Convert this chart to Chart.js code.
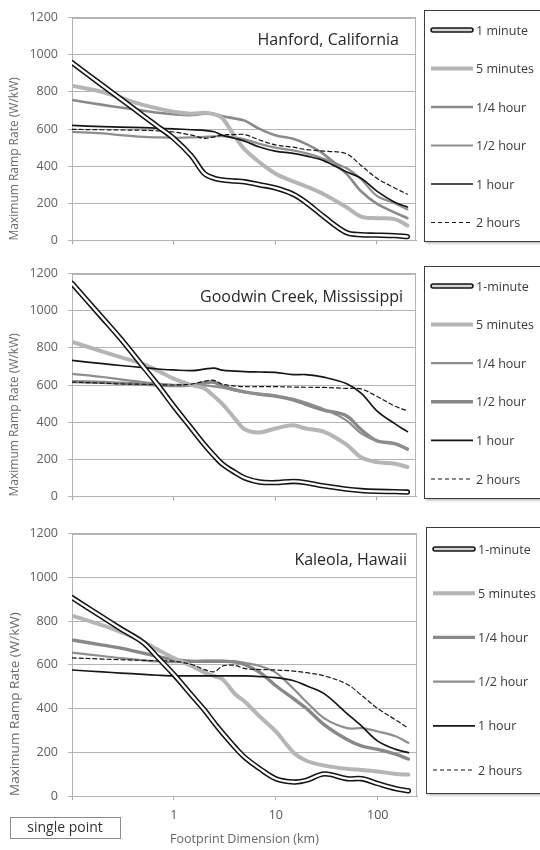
<!DOCTYPE html>
<html>
<head>
<meta charset="utf-8">
<script src="https://cdn.jsdelivr.net/npm/chart.js@4.4.1/dist/chart.umd.min.js"></script>
<style>
  html, body { margin: 0; padding: 0; background: #fff; }
  #wrap { position: relative; width: 540px; height: 850px; overflow: hidden; background: #fff; }
  #wrap canvas { position: absolute; left: 0; }
</style>
</head>
<body>
<div id="wrap">
  <canvas id="hanford" width="540" height="258" style="top:0px"></canvas>
  <canvas id="goodwin" width="540" height="258" style="top:256px"></canvas>
  <canvas id="kaleola" width="540" height="334" style="top:516px"></canvas>
</div>
<script>
// Footprint dimension (km); the first point stands for a single sensor
const footprintKm = [0.1, 0.2, 0.3, 0.5, 0.7, 1, 1.5, 2, 2.5, 3, 4, 5, 7, 10, 15, 20, 30, 50, 70, 100, 150, 200];
const xTickValues = [0.1, 1, 10, 100];
const yTickValues = [0, 200, 400, 600, 800, 1000, 1200];

// Maximum ramp rate (W/kW) — Hanford, California
const hanford1min      = [957, 834, 763, 672, 613, 550, 455, 361, 335, 326, 320, 316, 300, 283, 249, 206, 129, 43, 31, 29, 26, 21];
const hanford5min      = [833, 799, 768, 730, 710, 693, 682, 687, 680, 660, 560, 490, 421, 361, 318, 292, 249, 180, 129, 120, 115, 81];
const hanfordQuarterHr = [756, 730, 716, 699, 687, 679, 675, 682, 680, 670, 656, 645, 601, 567, 548, 520, 465, 360, 265, 198, 150, 120];
const hanfordHalfHr    = [584, 576, 567, 558, 555, 553, 555, 558, 560, 562, 555, 545, 520, 500, 485, 470, 440, 390, 330, 240, 200, 167];
const hanford1hr       = [619, 613, 610, 607, 604, 601, 596, 593, 585, 567, 550, 535, 503, 481, 469, 455, 430, 370, 335, 266, 206, 180];
const hanford2hr       = [598, 596, 595, 593, 590, 584, 567, 550, 558, 567, 570, 570, 541, 515, 502, 490, 481, 467, 404, 335, 283, 249];

// Goodwin Creek, Mississippi
const goodwin1min      = [1147, 960, 850, 700, 600, 487, 366, 280, 220, 176, 130, 100, 78, 75, 81, 75, 57, 40, 32, 28, 26, 24];
const goodwin5min      = [832, 780, 750, 712, 677, 634, 599, 582, 539, 500, 420, 362, 345, 366, 383, 366, 349, 280, 211, 185, 176, 159];
const goodwinQuarterHr = [660, 643, 630, 615, 608, 600, 595, 598, 592, 585, 570, 560, 553, 545, 525, 505, 470, 410, 340, 300, 283, 258];
const goodwinHalfHr    = [618, 614, 610, 605, 600, 597, 600, 612, 615, 595, 575, 563, 550, 540, 520, 496, 465, 435, 360, 300, 285, 255];
const goodwin1hr       = [732, 715, 705, 694, 686, 681, 677, 685, 691, 680, 675, 672, 670, 668, 656, 656, 642, 608, 556, 461, 392, 349];
const goodwin2hr       = [616, 610, 606, 604, 602, 600, 605, 620, 625, 605, 595, 591, 591, 591, 589, 588, 587, 582, 579, 539, 487, 461];

// Kaleola, Hawaii
const kaleola1min      = [907, 817, 765, 701, 631, 555, 459, 392, 333, 288, 221, 175, 124, 79, 64, 72, 101, 79, 79, 57, 34, 24];
const kaleola5min      = [825, 780, 750, 705, 668, 631, 594, 564, 548, 534, 465, 430, 362, 295, 198, 161, 139, 124, 119, 112, 101, 98];
const kaleolaQuarterHr = [713, 690, 676, 653, 638, 623, 616, 616, 616, 616, 612, 600, 564, 504, 444, 400, 325, 258, 228, 213, 191, 169];
const kaleolaHalfHr    = [655, 640, 630, 620, 615, 612, 615, 618, 618, 618, 615, 608, 594, 564, 489, 430, 355, 310, 310, 295, 273, 243];
const kaleola1hr       = [576, 567, 562, 556, 552, 549, 549, 549, 549, 549, 549, 549, 546, 541, 527, 504, 467, 377, 318, 251, 213, 198];
const kaleola2hr       = [631, 626, 623, 620, 618, 616, 601, 578, 568, 594, 597, 582, 578, 576, 571, 564, 549, 511, 459, 400, 348, 310];

const FONT = 'Open Sans';
const LINE = {
  minuteOuter: { borderColor: '#141414', borderWidth: 5.4 },
  minuteInner: { borderColor: '#ffffff', borderWidth: 2.3 },
  fiveMin:     { borderColor: '#b5b5b5', borderWidth: 4 },
  grayThin:    { borderColor: '#8e8e8e', borderWidth: 2.2 },
  grayThick:   { borderColor: '#888888', borderWidth: 3.4 },
  oneHour:     { borderColor: '#161616', borderWidth: 1.7 },
  twoHours:    { borderColor: '#161616', borderWidth: 1.2, borderDash: [4, 3] }
};

function series(label, values, style, legendRow, legendKind) {
  return Object.assign({
    label: label,
    legendRow: legendRow,
    legendKind: legendKind || 'line',
    data: footprintKm.map((x, i) => ({ x: x, y: values[i] })),
    pointRadius: 0,
    pointHoverRadius: 0,
    fill: false,
    tension: 0.35,
    borderCapStyle: 'round',
    borderJoinStyle: 'round'
  }, style);
}

// Light frame around the plotting area
const plotFrame = {
  id: 'plotFrame',
  beforeDatasetsDraw(chart) {
    const a = chart.chartArea, ctx = chart.ctx;
    ctx.save();
    ctx.strokeStyle = '#b4b4b4';
    ctx.lineWidth = 1;
    ctx.strokeRect(Math.round(a.left) + 0.5, Math.round(a.top) + 0.5,
                   Math.round(a.right - a.left) - 1, Math.round(a.bottom - a.top) - 1);
    ctx.restore();
  }
};

// Site name written inside the plot, right aligned
const siteName = {
  id: 'siteName',
  afterDatasetsDraw(chart, args, o) {
    const ctx = chart.ctx;
    ctx.save();
    ctx.font = o.size + 'px "' + FONT + '"';
    ctx.fillStyle = '#262626';
    ctx.textAlign = 'right';
    ctx.textBaseline = 'middle';
    ctx.fillText(o.text, o.right, o.y);
    ctx.restore();
  }
};

// Boxed legend to the right of the plot
const boxedLegend = {
  id: 'boxedLegend',
  afterDraw(chart, args, o) {
    const ctx = chart.ctx;
    ctx.save();
    ctx.shadowColor = 'rgba(0,0,0,0.35)';
    ctx.shadowBlur = 3;
    ctx.shadowOffsetX = 2;
    ctx.shadowOffsetY = 2;
    ctx.fillStyle = '#ffffff';
    ctx.fillRect(o.left, o.top, o.width, o.height);
    ctx.shadowColor = 'rgba(0,0,0,0)';
    ctx.strokeStyle = '#3c3c3c';
    ctx.lineWidth = 1;
    ctx.strokeRect(o.left + 0.5, o.top + 0.5, o.width, o.height);

    const items = chart.data.datasets
      .filter(d => d.legendRow !== undefined)
      .sort((a, b) => a.legendRow - b.legendRow);
    const x0 = o.left + 7, x1 = o.left + 49;
    items.forEach((d, i) => {
      const y = o.firstRow + i * o.rowGap;
      ctx.setLineDash([]);
      ctx.lineCap = 'round';
      if (d.legendKind === 'double') {
        ctx.strokeStyle = '#141414';
        ctx.lineWidth = 5.5;
        ctx.beginPath(); ctx.moveTo(x0 + 2, y); ctx.lineTo(x1 - 2, y); ctx.stroke();
        ctx.strokeStyle = '#d4d4d4';
        ctx.lineWidth = 2.4;
        ctx.beginPath(); ctx.moveTo(x0 + 2, y); ctx.lineTo(x1 - 2, y); ctx.stroke();
      } else {
        ctx.lineCap = 'butt';
        ctx.strokeStyle = d.borderColor;
        ctx.lineWidth = d.borderWidth;
        ctx.setLineDash(d.borderDash || []);
        ctx.beginPath(); ctx.moveTo(x0, y); ctx.lineTo(x1, y); ctx.stroke();
      }
      ctx.setLineDash([]);
      ctx.font = o.fontSize + 'px "' + FONT + '"';
      ctx.fillStyle = '#3a3a3a';
      ctx.textAlign = 'left';
      ctx.textBaseline = 'middle';
      ctx.fillText(d.label, x1 + 3, y + 1);
    });
    ctx.restore();
  }
};

// Boxed note under the first x tick
const pointNote = {
  id: 'pointNote',
  afterDraw(chart, args, o) {
    if (!o.text) return;
    const ctx = chart.ctx;
    ctx.save();
    ctx.strokeStyle = '#8c8c8c';
    ctx.lineWidth = 1;
    ctx.strokeRect(o.left + 0.5, o.top + 0.5, o.width, o.height);
    ctx.font = o.size + 'px "' + FONT + '"';
    ctx.fillStyle = '#333333';
    ctx.textAlign = 'center';
    ctx.textBaseline = 'middle';
    ctx.fillText(o.text, o.left + o.width / 2, o.top + o.height / 2 + 1);
    ctx.restore();
  }
};

function makePanel(id, cfg) {
  const grayAxis = '#a8a8a8';
  const datasets = [
    series('1 minute inner', cfg.min1, LINE.minuteInner),
    series(cfg.minuteLabel, cfg.min1, LINE.minuteOuter, 0, 'double'),
    series('2 hours', cfg.hr2, LINE.twoHours, 5),
    series('1 hour', cfg.hr1, LINE.oneHour, 4),
    series('5 minutes', cfg.min5, LINE.fiveMin, 1),
    series('1/4 hour', cfg.quarter, cfg.quarterStyle, 2),
    series('1/2 hour', cfg.half, cfg.halfStyle, 3)
  ];
  return new Chart(document.getElementById(id), {
    type: 'line',
    data: { datasets: datasets },
    plugins: [plotFrame, siteName, boxedLegend, pointNote],
    options: {
      responsive: false,
      devicePixelRatio: 1,
      animation: false,
      events: [],
      layout: { padding: { top: 12, right: cfg.padRight, bottom: cfg.padBottom, left: 0 } },
      plugins: {
        legend: { display: false },
        tooltip: { enabled: false },
        siteName: cfg.site,
        boxedLegend: cfg.legend,
        pointNote: cfg.note || {}
      },
      scales: {
        x: {
          type: 'logarithmic',
          min: 0.1,
          max: 243,
          afterBuildTicks: s => { s.ticks = xTickValues.map(v => ({ value: v })); },
          afterFit: s => { s.height = cfg.xHeight; },
          grid: { drawOnChartArea: false, drawTicks: true, tickLength: 4, color: grayAxis },
          border: { display: true, color: grayAxis },
          ticks: {
            display: cfg.xLabels,
            autoSkip: false,
            maxRotation: 0,
            padding: 8,
            color: '#555555',
            font: { family: FONT, size: 12.5 },
            callback: v => (v >= 1 ? String(v) : '')
          },
          title: {
            display: cfg.xLabels,
            text: 'Footprint Dimension (km)',
            color: '#666666',
            font: { family: FONT, size: 12.5 },
            padding: { top: 0, bottom: 3 }
          }
        },
        y: {
          min: 0,
          max: 1200,
          afterBuildTicks: s => { s.ticks = yTickValues.map(v => ({ value: v })); },
          afterFit: s => { s.width = 72; },
          grid: { color: '#b4b4b4', tickLength: 4 },
          border: { color: grayAxis },
          ticks: {
            padding: 10,
            color: '#606060',
            font: { family: FONT, size: 12.5 },
            callback: v => String(v)
          },
          title: {
            display: true,
            text: 'Maximum Ramp Rate (W/kW)',
            align: 'start',
            color: '#6a6a6a',
            font: { family: FONT, size: cfg.yTitleSize },
            padding: { top: 7, bottom: 0 }
          }
        }
      }
    }
  });
}

makePanel('hanford', {
  min1: hanford1min, min5: hanford5min, quarter: hanfordQuarterHr, half: hanfordHalfHr,
  hr1: hanford1hr, hr2: hanford2hr,
  minuteLabel: '1 minute',
  quarterStyle: { borderColor: '#8a8a8a', borderWidth: 2.6 },
  halfStyle: LINE.grayThin,
  padRight: 124, padBottom: 6, xHeight: 6, xLabels: false, yTitleSize: 12,
  site: { text: 'Hanford, California', right: 399, y: 40, size: 16 },
  legend: { left: 424, top: 10, width: 130, height: 231, firstRow: 30, rowGap: 38.5, fontSize: 12.5 }
});

makePanel('goodwin', {
  min1: goodwin1min, min5: goodwin5min, quarter: goodwinQuarterHr, half: goodwinHalfHr,
  hr1: goodwin1hr, hr2: goodwin2hr,
  minuteLabel: '1-minute',
  quarterStyle: LINE.grayThin,
  halfStyle: LINE.grayThick,
  padRight: 124, padBottom: 6, xHeight: 6, xLabels: false, yTitleSize: 12,
  site: { text: 'Goodwin Creek, Mississippi', right: 403, y: 41, size: 16 },
  legend: { left: 424, top: 10, width: 130, height: 232, firstRow: 30, rowGap: 38.6, fontSize: 12.5 }
});

makePanel('kaleola', {
  min1: kaleola1min, min5: kaleola5min, quarter: kaleolaQuarterHr, half: kaleolaHalfHr,
  hr1: kaleola1hr, hr2: kaleola2hr,
  minuteLabel: '1-minute',
  quarterStyle: LINE.grayThick,
  halfStyle: LINE.grayThin,
  padRight: 123, padBottom: 0, xHeight: 54, xLabels: true, yTitleSize: 13.5,
  site: { text: 'Kaleola, Hawaii', right: 407, y: 44, size: 16 },
  legend: { left: 426, top: 11, width: 130, height: 266, firstRow: 33, rowGap: 44.2, fontSize: 12.5 },
  note: { text: 'single point', left: 10, top: 301, width: 110, height: 21, size: 14 }
});
</script>
</body>
</html>
